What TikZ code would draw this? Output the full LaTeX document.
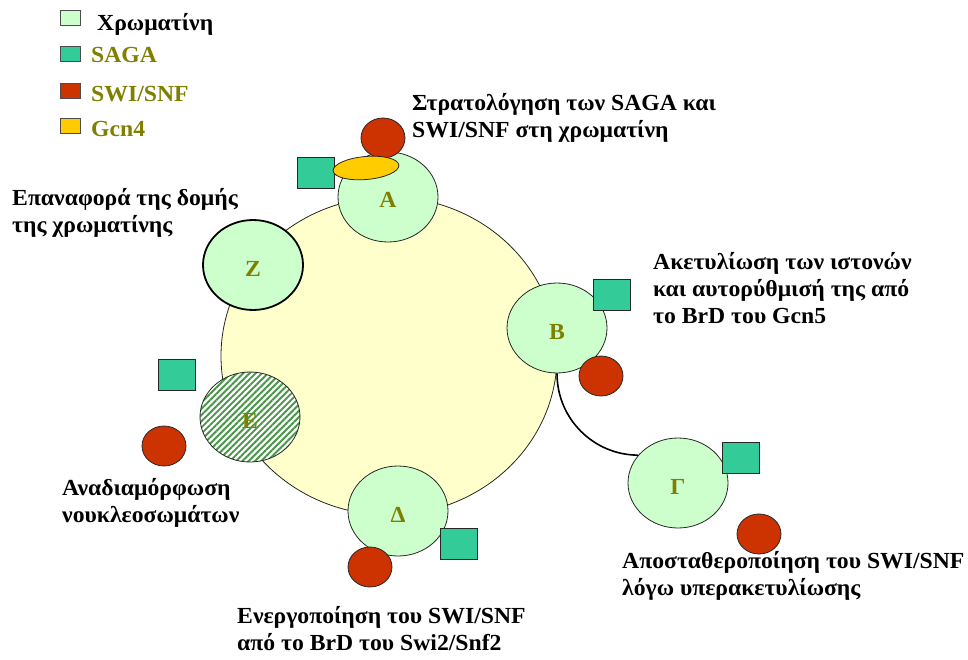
\documentclass[tikz,border=0pt]{standalone}
\usepackage{fontspec}
\setmainfont{Liberation Serif}[FakeStretch=1.03]
\usetikzlibrary{shapes.geometric,patterns.meta}
\definecolor{chromcol}{HTML}{CCFFCC}
\definecolor{sagacol}{HTML}{33CC99}
\definecolor{swicol}{HTML}{CC3300}
\definecolor{gcncol}{HTML}{FFCC00}
\definecolor{bgcol}{HTML}{FFFFCC}
\definecolor{olivecol}{HTML}{808000}
\definecolor{hatchcol}{RGB}{70,150,70}
\begin{document}
\begin{tikzpicture}[x=1pt,y=-1pt,
  font=\bfseries\fontsize{23}{27}\selectfont,
  chromnode/.style={ellipse, draw=black!85, line width=0.8pt, fill=chromcol, inner sep=0pt,
    minimum width=100pt, minimum height=90pt, text=olivecol, text height=22pt, text depth=0pt},
  sagabox/.style={rectangle, draw=black!85, line width=0.8pt, fill=sagacol, inner sep=0pt,
    minimum width=37pt, minimum height=31pt},
  swiball/.style={ellipse, draw=black!85, line width=0.8pt, fill=swicol, inner sep=0pt,
    minimum width=44pt, minimum height=40pt},
  legbox/.style={rectangle, draw=black!70, line width=1pt, inner sep=0pt,
    minimum width=20pt, minimum height=15pt},
  legtext/.style={anchor=base west, inner sep=0pt, text=olivecol},
  lbl/.style={anchor=base west, inner sep=0pt, align=left}
]
\useasboundingbox (0,0) rectangle (968,660);

% legend
\node[legbox, fill=chromcol] (L1) at (70,18.5) {};
\node[legbox, fill=sagacol] (L2) at (70,54.5) {};
\node[legbox, fill=swicol] (L3) at (70,91) {};
\node[legbox, fill=gcncol] (L4) at (70,126) {};
\node[legtext, text=black] (T1) at (97,31) {Χρωματίνη};
\node[legtext] (T2) at (91,63) {SAGA};
\node[legtext] (T3) at (91,102) {SWI/SNF};
\node[legtext] (T4) at (91,137) {Gcn4};

% big chromatin loop
\node[ellipse, draw=black!85, line width=0.8pt, fill=bgcol, minimum width=336pt, minimum height=318pt, inner sep=0pt] (C) at (389,356) {};

% nucleosome states
\node[chromnode] (A) at (388,197) {A};
\node[chromnode] (B) at (557,328) {B};
\node[chromnode] (G) at (678,483) {Γ};
\node[chromnode] (D) at (398,511) {Δ};
\node[chromnode, fill=white, preaction={fill=white},
      pattern={Lines[angle=45,distance=4.4pt,line width=1.9pt]}, pattern color=hatchcol] (E) at (250,417) {};
\node[text=olivecol, inner sep=0pt, text height=22pt, text depth=0pt] (Elbl) at (E.center) {E};
\node[chromnode, line width=1.8pt, draw=black] (Z) at (253,265) {Z};

% connector B -> Gamma
\draw[line width=1.6pt] (B.south) .. controls +(0,46) and +(-44,0) .. (G.145);

% SAGA boxes
\node[sagabox] (SA) at (315.5,172.5) {};
\node[sagabox] (SB) at (612,294.5) {};
\node[sagabox] (SG) at (741,457.5) {};
\node[sagabox] (SD) at (459,543.5) {};
\node[sagabox] (SE) at (176.5,374.5) {};

% SWI/SNF balls
\node[swiball] (RA) at (383,138) {};
\node[swiball] (RB) at (601,376) {};
\node[swiball] (RG) at (759,534) {};
\node[swiball] (RD) at (370,567) {};
\node[swiball] (RE) at (164,446) {};

% Gcn4
\node[ellipse, draw=black!85, line width=0.8pt, fill=gcncol, inner sep=0pt,
      minimum width=66pt, minimum height=23pt, rotate=5] (GC) at (366,168) {};

% labels (anchor = baseline of last line)
\node[lbl] (LA) at (412,138) {Στρατολόγηση των SAGA και\\SWI/SNF στη χρωματίνη};
\node[lbl] (LB) at (653,323) {Ακετυλίωση των ιστονών\\και αυτορύθμισή της από\\το BrD του Gcn5};
\node[lbl] (LG) at (622,595) {Αποσταθεροποίηση του SWI/SNF\\λόγω υπερακετυλίωσης};
\node[lbl] (LD) at (237,650) {Ενεργοποίηση του SWI/SNF\\από το BrD του Swi2/Snf2};
\node[lbl] (LE) at (62,522) {Αναδιαμόρφωση\\νουκλεοσωμάτων};
\node[lbl] (LZ) at (12,233) {Επαναφορά της δομής\\της χρωματίνης};
\end{tikzpicture}
\end{document}
